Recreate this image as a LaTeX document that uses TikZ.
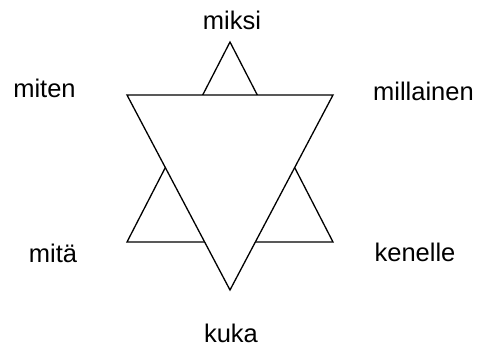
\documentclass[tikz,border=0pt]{standalone}
\usepackage{fontspec}
\setmainfont{Liberation Sans}
\usetikzlibrary{positioning}

\begin{document}
\begin{tikzpicture}[
  x=1pt, y=-1pt,
  word/.style={font=\fontsize{25.5}{30}\selectfont, inner sep=0pt},
  edgeline/.style={draw, line width=1.3pt, line join=miter},
]
  \useasboundingbox (0,0) rectangle (480,349);
  % upward triangle first, the downward one covers it
  \coordinate (up) at (230,42);
  \coordinate (upl) at (127,242);
  \coordinate (upr) at (333,242);
  \coordinate (dnl) at (127,95);
  \coordinate (dnr) at (333,95);
  \coordinate (dn) at (230,290);
  \draw[edgeline] (up) -- (upr) -- (upl) -- cycle;
  \draw[edgeline, fill=white] (dnl) -- (dnr) -- (dn) -- cycle;

  \node[word] (miksi) at (232,20.5) {miksi};
  \node[word] (miten) at (44.5,88.5) {miten};
  \node[word] (millainen) at (423.5,91.5) {millainen};
  \node[word] (mita) at (53,253.5) {mitä};
  \node[word] (kenelle) at (415,252) {kenelle};
  \node[word] (kuka) at (231,333) {kuka};
\end{tikzpicture}
\end{document}
